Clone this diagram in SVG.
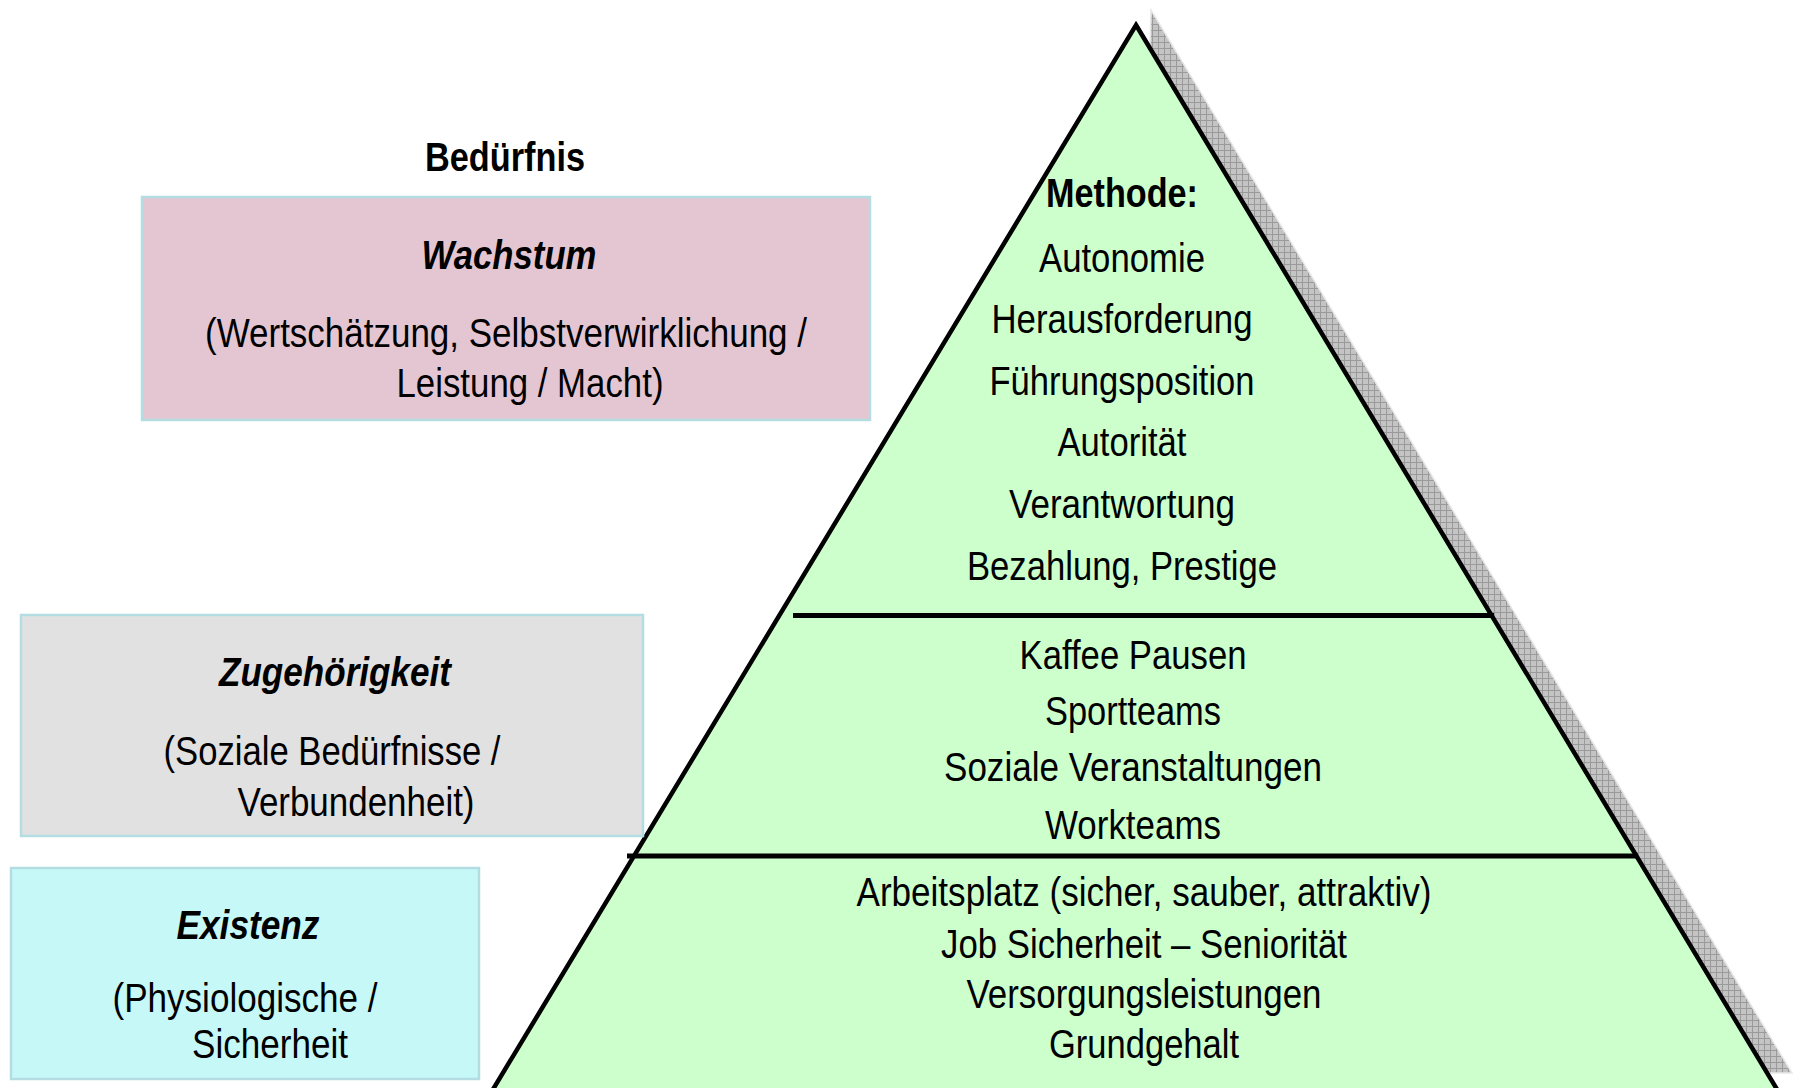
<svg xmlns="http://www.w3.org/2000/svg" width="1794" height="1088" viewBox="0 0 1794 1088">
<defs>
<pattern id="hatch" width="6" height="6" patternUnits="userSpaceOnUse">
<rect width="6" height="6" fill="#c4c4c4"/>
<path d="M0 0.5H6M0.5 0V6" stroke="#9a9a9a" stroke-width="1"/>
</pattern>
<style>
text{font-family:"Liberation Sans Narrow","Liberation Sans",Arial,sans-serif;fill:#000;text-anchor:middle}
.t{font-size:41px}
.b{font-size:40px;font-weight:bold}
.bi{font-size:40px;font-weight:bold;font-style:italic}
.box{stroke:#b4dde3;stroke-width:2.5}
.div{stroke:#000;stroke-width:5}
</style>
</defs>
<rect width="1794" height="1088" fill="#fff"/>
<g id="pyramid">
<polygon points="1151,10 1792,1073 1120,1073" fill="url(#hatch)" stroke="#e8e8e8" stroke-width="1.5"/>
<polygon points="1136,25 1778,1091 492,1091" fill="#ccffcc" stroke="#000" stroke-width="4.5" stroke-linejoin="miter"/>
</g>
<g id="connectors">
<line class="div" x1="793" y1="615.5" x2="1494" y2="615.5"/>
<line class="div" x1="627" y1="856" x2="1638" y2="856"/>
</g>
<g id="heading">
<text class="b" x="505" y="171" textLength="160" lengthAdjust="spacingAndGlyphs">Bedürfnis</text>
</g>
<g id="box-wachstum">
<rect class="box" x="142" y="197" width="728" height="223" fill="#e4c6d2"/>
<text class="bi" x="509" y="269" textLength="175" lengthAdjust="spacingAndGlyphs">Wachstum</text>
<text class="t" x="506" y="347" textLength="602" lengthAdjust="spacingAndGlyphs">(Wertschätzung, Selbstverwirklichung /</text>
<text class="t" x="530" y="397" textLength="267" lengthAdjust="spacingAndGlyphs">Leistung / Macht)</text>
</g>
<g id="box-zugehoerigkeit">
<rect class="box" x="21" y="615" width="622" height="221" fill="#e1e1e1"/>
<text class="bi" x="335" y="686" textLength="232" lengthAdjust="spacingAndGlyphs">Zugehörigkeit</text>
<text class="t" x="332" y="765" textLength="337" lengthAdjust="spacingAndGlyphs">(Soziale Bedürfnisse /</text>
<text class="t" x="356" y="816" textLength="237" lengthAdjust="spacingAndGlyphs">Verbundenheit)</text>
</g>
<g id="box-existenz">
<rect class="box" x="11" y="868" width="468" height="211" fill="#c6f8f8"/>
<text class="bi" x="248" y="939" textLength="143" lengthAdjust="spacingAndGlyphs">Existenz</text>
<text class="t" x="245" y="1012" textLength="265" lengthAdjust="spacingAndGlyphs">(Physiologische /</text>
<text class="t" x="270" y="1058" textLength="156" lengthAdjust="spacingAndGlyphs">Sicherheit</text>
</g>
<g id="level-top">
<text class="b" x="1122" y="207" textLength="152" lengthAdjust="spacingAndGlyphs">Methode:</text>
<text class="t" x="1122" y="272" textLength="166" lengthAdjust="spacingAndGlyphs">Autonomie</text>
<text class="t" x="1122" y="333" textLength="261" lengthAdjust="spacingAndGlyphs">Herausforderung</text>
<text class="t" x="1122" y="395" textLength="265" lengthAdjust="spacingAndGlyphs">Führungsposition</text>
<text class="t" x="1122" y="456" textLength="129" lengthAdjust="spacingAndGlyphs">Autorität</text>
<text class="t" x="1122" y="518" textLength="226" lengthAdjust="spacingAndGlyphs">Verantwortung</text>
<text class="t" x="1122" y="580" textLength="310" lengthAdjust="spacingAndGlyphs">Bezahlung, Prestige</text>
</g>
<g id="level-middle">
<text class="t" x="1133" y="669" textLength="227" lengthAdjust="spacingAndGlyphs">Kaffee Pausen</text>
<text class="t" x="1133" y="725" textLength="176" lengthAdjust="spacingAndGlyphs">Sportteams</text>
<text class="t" x="1133" y="781" textLength="378" lengthAdjust="spacingAndGlyphs">Soziale Veranstaltungen</text>
<text class="t" x="1133" y="839" textLength="176" lengthAdjust="spacingAndGlyphs">Workteams</text>
</g>
<g id="level-bottom">
<text class="t" x="1144" y="906" textLength="575" lengthAdjust="spacingAndGlyphs">Arbeitsplatz (sicher, sauber, attraktiv)</text>
<text class="t" x="1144" y="958" textLength="406" lengthAdjust="spacingAndGlyphs">Job Sicherheit – Seniorität</text>
<text class="t" x="1144" y="1008" textLength="355" lengthAdjust="spacingAndGlyphs">Versorgungsleistungen</text>
<text class="t" x="1144" y="1058" textLength="190" lengthAdjust="spacingAndGlyphs">Grundgehalt</text>
</g>
</svg>
